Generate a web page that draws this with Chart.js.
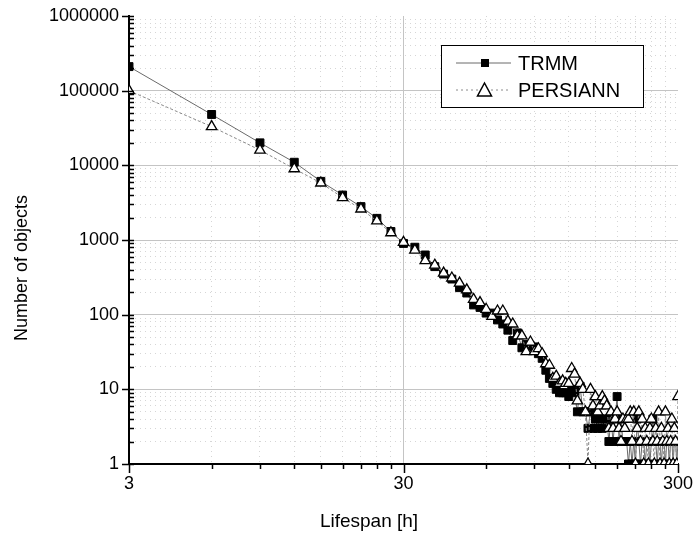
<!DOCTYPE html>
<html>
<head>
<meta charset="utf-8">
<script src="https://cdn.jsdelivr.net/npm/chart.js@4.4.1/dist/chart.umd.min.js"></script>
<style>
  html, body { margin: 0; padding: 0; background: #fff; }
</style>
</head>
<body>
<canvas id="myChart" width="694" height="536"></canvas>
<script>
// lifespan classes [h]
const hours = [
  3, 6, 9, 12, 15, 18, 21, 24, 27, 30,
  33, 36, 39, 42, 45, 48, 51, 54, 57, 60,
  63, 66, 69, 72, 75, 78, 81, 84, 87, 90,
  93, 96, 99, 102, 105, 108, 111, 114, 117, 120,
  123, 126, 129, 132, 135, 138, 141, 144, 147, 150,
  153, 156, 159, 162, 165, 168, 171, 174, 177, 180,
  183, 186, 189, 192, 195, 198, 201, 204, 207, 210,
  213, 216, 219, 222, 225, 228, 231, 234, 237, 240,
  243, 246, 249, 252, 255, 258, 261, 264, 267, 270,
  273, 276, 279, 282, 285, 288, 291, 294, 297, 300
];

const trmm = [
  210000, 48000, 20000, 11000, 6100, 4000, 2800, 1950, 1300, 900,
  800, 630, 440, 350, 300, 230, 195, 135, 125, 105,
  105, 85, 75, 62, 45, 57, 36, 40, 38, 37,
  30, 26, 18, 14, 12, 10, 9, 9, 9, 8,
  10, 9, 5, 11, 5, 5, 3, 5, 3, 4,
  3, 4, 3, 4, 4, 2, 4, 2, 4, 8,
  2, 4, 2, 2, 2, 1, 2, 1, 2, 1,
  4, 2, 1, 2, 2, 1, 2, 2, 1, 2,
  4, 2, 2, 1, 2, 2, 1, 2, 2, 1,
  2, 2, 1, 2, 2, 1, 2, 2, 1, 2
];

const persiann = [
  100000, 33000, 16000, 9000, 5800, 3700, 2600, 1800, 1250, 930,
  730, 530, 460, 360, 310, 265, 215, 160, 145, 118,
  95, 112, 112, 82, 75, 52, 52, 32, 43, 32,
  35, 30, 22, 21, 14, 15, 12, 13, 12, 12,
  19, 16, 7, 12, 10, 5, 1, 10, 6, 8,
  5, 6, 8, 7, 6, 3, 5, 3, 4, 5,
  3, 2, 4, 3, 4, 4, 5, 2, 5, 1,
  3, 5, 2, 4, 1, 3, 2, 1, 3, 4,
  2, 1, 3, 2, 5, 1, 3, 2, 1, 5,
  2, 3, 1, 2, 4, 1, 3, 2, 1, 8
];

// axis ticks
const xTickValues = [3, 6, 9, 12, 15, 18, 21, 24, 27, 30, 60, 90, 120, 150, 180, 210, 240, 270, 300];
const xLabels = [3, 30, 300];
const yLabels = [1, 10, 100, 1000, 10000, 100000, 1000000];
const yTickValues = [];
yLabels.forEach((d, i) => {
  if (i === yLabels.length - 1) { yTickValues.push(d); return; }
  for (let k = 1; k < 10; k++) yTickValues.push(d * k);
});

const seriesNames = ['TRMM', 'PERSIANN'];

const FONT = 'Liberation Sans, Arial, sans-serif';
const majorGrid = '#c4c4c4';
const minorGrid = '#d6d6d6';

const toPoints = vals => hours.map((h, i) => ({ x: h, y: vals[i] }));

// tick marks, axis titles and boxed legend
const extras = {
  id: 'extras',
  afterDraw(chart) {
    const { ctx, chartArea: a, scales: { x, y } } = chart;
    ctx.save();
    ctx.strokeStyle = '#000';
    ctx.lineWidth = 1.5;
    ctx.beginPath();
    xTickValues.forEach(v => {
      const px = Math.round(x.getPixelForValue(v)) + 0.5;
      const len = xLabels.includes(v) ? 9 : 5;
      ctx.moveTo(px, a.bottom);
      ctx.lineTo(px, a.bottom + len);
    });
    yTickValues.forEach(v => {
      const py = Math.round(y.getPixelForValue(v)) + 0.5;
      if (yLabels.includes(v)) {
        ctx.moveTo(a.left - 7, py);
        ctx.lineTo(a.left + 5, py);
      } else {
        ctx.moveTo(a.left, py);
        ctx.lineTo(a.left + 5, py);
      }
    });
    ctx.stroke();

    // axis titles
    ctx.fillStyle = '#000';
    ctx.textAlign = 'center';
    ctx.textBaseline = 'middle';
    ctx.font = '19px ' + FONT;
    ctx.fillText('Lifespan [h]', a.left + 240, a.bottom + 58);
    ctx.save();
    ctx.translate(22, a.top + 252);
    ctx.rotate(-Math.PI / 2);
    ctx.font = '18px ' + FONT;
    ctx.fillText('Number of objects', 0, 0);
    ctx.restore();

    // legend
    const bx = a.right - 237, by = a.top + 29, bw = 202, bh = 62;
    ctx.fillStyle = '#fff';
    ctx.fillRect(bx, by, bw, bh);
    ctx.lineWidth = 1;
    ctx.strokeStyle = '#000';
    ctx.strokeRect(bx + 0.5, by + 0.5, bw, bh);

    const rows = [by + 18, by + 45];
    // TRMM sample
    ctx.strokeStyle = '#6a6a6a';
    ctx.beginPath();
    ctx.moveTo(bx + 15, rows[0]); ctx.lineTo(bx + 70, rows[0]);
    ctx.stroke();
    ctx.fillStyle = '#000';
    ctx.fillRect(bx + 40, rows[0] - 4, 8, 8);
    // PERSIANN sample
    ctx.setLineDash([2, 3]);
    ctx.strokeStyle = '#8a8a8a';
    ctx.beginPath();
    ctx.moveTo(bx + 15, rows[1]); ctx.lineTo(bx + 70, rows[1]);
    ctx.stroke();
    ctx.setLineDash([]);
    ctx.fillStyle = '#fff';
    ctx.strokeStyle = '#000';
    ctx.lineWidth = 1.5;
    ctx.beginPath();
    ctx.moveTo(bx + 43.5, rows[1] - 7);
    ctx.lineTo(bx + 50.5, rows[1] + 6);
    ctx.lineTo(bx + 36.5, rows[1] + 6);
    ctx.closePath();
    ctx.fill();
    ctx.stroke();

    ctx.fillStyle = '#000';
    ctx.font = '20px ' + FONT;
    ctx.textAlign = 'left';
    ctx.fillText(seriesNames[0], bx + 77, rows[0] + 1);
    ctx.fillText(seriesNames[1], bx + 77, rows[1] + 1);
    ctx.restore();
  }
};

const config = {
  type: 'line',
  data: {
    datasets: [
      {
        label: seriesNames[0],
        data: toPoints(trmm),
        borderColor: '#6a6a6a',
        borderWidth: 1,
        pointStyle: 'rect',
        pointRadius: 5.6,
        pointBackgroundColor: '#000',
        pointBorderColor: '#000',
        pointBorderWidth: 1,
        order: 2
      },
      {
        label: seriesNames[1],
        data: toPoints(persiann),
        borderColor: '#8a8a8a',
        borderWidth: 1,
        borderDash: [3, 2],
        pointStyle: 'triangle',
        pointRadius: 6,
        pointBackgroundColor: '#fff',
        pointBorderColor: '#000',
        pointBorderWidth: 1.3,
        order: 1
      }
    ]
  },
  options: {
    responsive: false,
    animation: false,
    devicePixelRatio: 1,
    layout: { padding: { left: 0, top: 16, right: 16, bottom: 0 } },
    plugins: {
      legend: { display: false },
      tooltip: { enabled: false }
    },
    scales: {
      x: {
        type: 'logarithmic',
        min: 3,
        max: 300,
        afterBuildTicks(scale) { scale.ticks = xTickValues.map(v => ({ value: v })); },
        afterFit(scale) { scale.height = 72; scale.paddingLeft = 0; scale.paddingRight = 0; },
        grid: {
          drawTicks: false,
          lineWidth: 1,
          color: c => {
            if (!c.tick) return majorGrid;
            if (c.tick.value === 3 || c.tick.value === 300) return 'rgba(0,0,0,0)';
            return xLabels.includes(c.tick.value) ? majorGrid : minorGrid;
          }
        },
        border: {
          display: true,
          color: '#000',
          width: 2,
          dash: c => (c.tick && !xLabels.includes(c.tick.value)) ? [1, 4] : []
        },
        ticks: {
          autoSkip: false,
          maxRotation: 0,
          padding: 9,
          color: '#000',
          font: { family: FONT, size: 18 },
          callback: v => xLabels.includes(v) ? String(v) : ''
        }
      },
      y: {
        type: 'logarithmic',
        min: 1,
        max: 1000000,
        afterBuildTicks(scale) { scale.ticks = yTickValues.map(v => ({ value: v })); },
        afterFit(scale) { scale.width = 129; scale.paddingTop = 0; scale.paddingBottom = 0; },
        grid: {
          drawTicks: false,
          lineWidth: 1,
          color: c => {
            if (!c.tick) return majorGrid;
            if (c.tick.value === 1 || c.tick.value === 1000000) return 'rgba(0,0,0,0)';
            return yLabels.includes(c.tick.value) ? majorGrid : minorGrid;
          }
        },
        border: {
          display: true,
          color: '#000',
          width: 2,
          dash: c => (c.tick && !yLabels.includes(c.tick.value)) ? [1, 4] : []
        },
        ticks: {
          autoSkip: false,
          padding: 10,
          color: '#000',
          font: { family: FONT, size: 18 },
          callback: v => yLabels.includes(v) ? String(v) : ''
        }
      }
    }
  },
  plugins: [extras]
};

const myChart = new Chart(document.getElementById('myChart'), config);
</script>
</body>
</html>
